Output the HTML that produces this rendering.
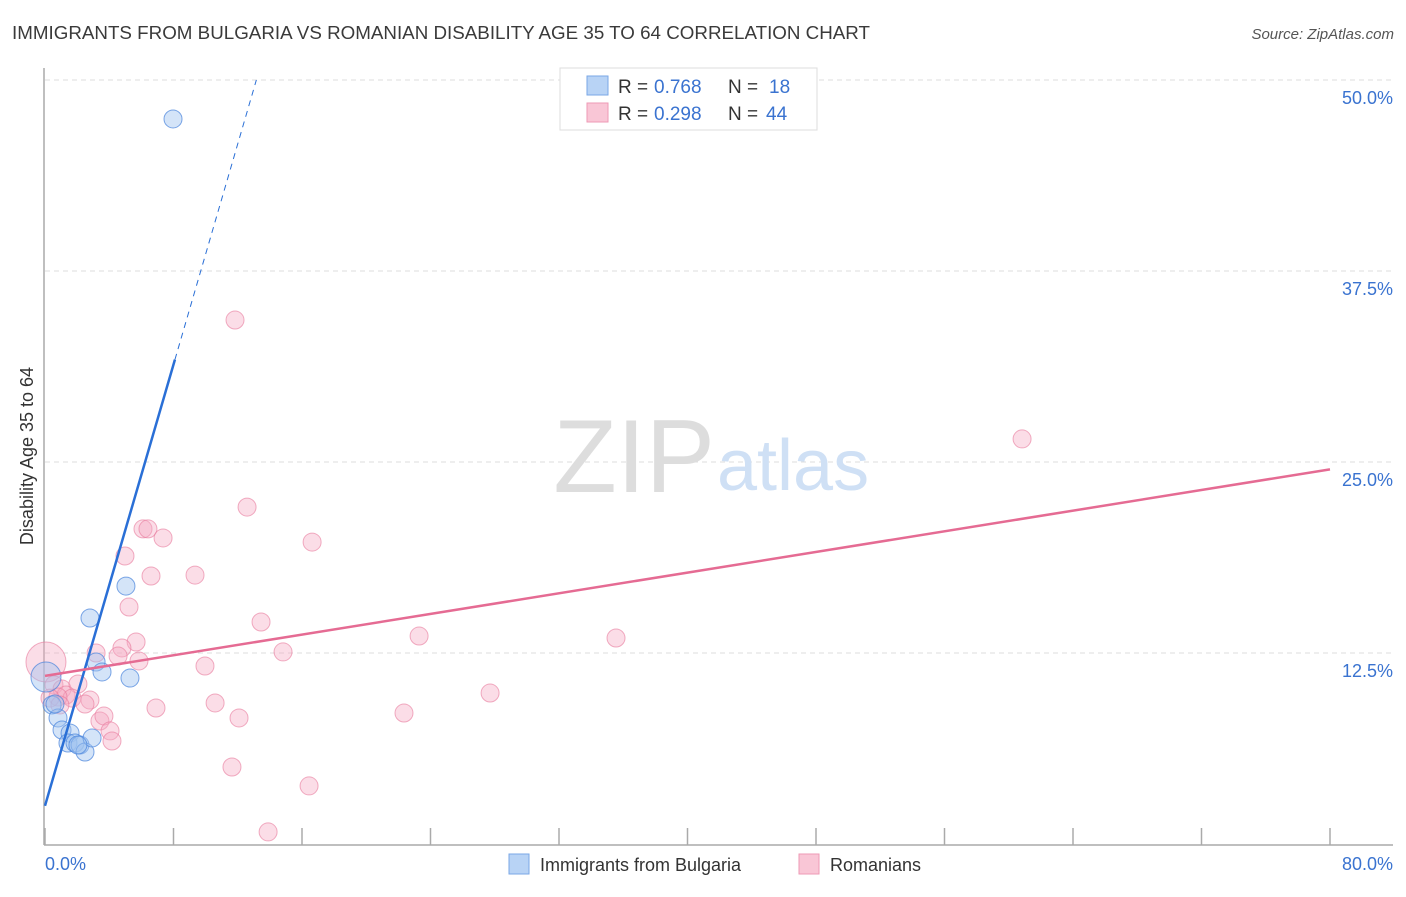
<!DOCTYPE html>
<html><head><meta charset="utf-8"><style>
body{margin:0;background:#fff;font-family:"Liberation Sans",sans-serif;}
svg text{font-family:"Liberation Sans",sans-serif;}
</style></head><body>
<svg id="c" width="1406" height="892">
<text x="12" y="39" font-size="18" fill="#3a3a3a" textLength="858" lengthAdjust="spacingAndGlyphs">IMMIGRANTS FROM BULGARIA VS ROMANIAN DISABILITY AGE 35 TO 64 CORRELATION CHART</text>
<text x="1394" y="39" font-size="15" fill="#555" text-anchor="end" font-style="italic">Source: ZipAtlas.com</text>
<text x="33" y="456" font-size="18" fill="#333" text-anchor="middle" transform="rotate(-90 33 456)">Disability Age 35 to 64</text>
<g id="grid"></g>
<text x="715" y="492" font-size="104" fill="#ddd" text-anchor="end" font-family="Liberation Serif">ZIP</text>
<text x="717" y="490" font-size="72" fill="#cfe0f5">atlas</text>
<g id="pts"></g>
<g id="lines"></g>
<g>
<rect x="560" y="68" width="257" height="62" fill="#fff" stroke="#ddd"/>
<rect x="587" y="76" width="21" height="19" fill="#b8d3f5" stroke="#7aa7e6"/>
<rect x="587" y="103" width="21" height="19" fill="#f9c6d6" stroke="#ee9ab5"/>
<text x="618" y="93" font-size="19" fill="#333">R =</text><text x="654" y="93" font-size="19" fill="#3a73d0">0.768</text>
<text x="728" y="93" font-size="19" fill="#333">N =</text><text x="769" y="93" font-size="19" fill="#3a73d0">18</text>
<text x="618" y="120" font-size="19" fill="#333">R =</text><text x="654" y="120" font-size="19" fill="#3a73d0">0.298</text>
<text x="728" y="120" font-size="19" fill="#333">N =</text><text x="766" y="120" font-size="19" fill="#3a73d0">44</text>
</g>
<g>
<rect x="509" y="854" width="20" height="20" fill="#b8d3f5" stroke="#7aa7e6"/>
<text x="540" y="871" font-size="18" fill="#333">Immigrants from Bulgaria</text>
<rect x="799" y="854" width="20" height="20" fill="#f9c6d6" stroke="#ee9ab5"/>
<text x="830" y="871" font-size="18" fill="#333">Romanians</text>
</g>
</svg>
<script>
const yTicks=[12.5,25,37.5,50];
const yTickLabels=["12.5%","25.0%","37.5%","50.0%"];
const xTickLabels=["0.0%","80.0%"];
const blueX=[7.97,5.04,2.80,3.18,3.55,5.29,0.06,0.44,0.81,1.06,1.56,1.43,1.87,2.18,2.49,2.93,0.62,2.05];
const blueY=[47.45,16.88,14.79,11.91,11.26,10.86,10.93,9.10,8.25,7.46,7.26,6.61,6.61,6.48,6.02,6.94,9.16,6.48];
const pinkX=[0.06,11.83,60.83,12.58,6.10,6.41,7.35,16.63,4.98,6.60,9.34,5.23,13.45,23.29,35.55,5.67,4.79,3.18,4.55,5.85,14.82,9.96,27.71,0.56,1.06,2.05,1.31,1.68,2.80,2.49,0.81,6.91,10.59,12.08,22.35,3.42,3.67,4.05,4.17,11.64,16.44,13.89,0.31,0.93];
const pinkY=[11.91,34.29,26.51,22.05,20.62,20.62,20.03,19.76,18.85,17.54,17.60,15.51,14.53,13.61,13.48,13.22,12.83,12.50,12.30,11.98,12.57,11.65,9.88,10.41,10.14,10.47,9.75,9.55,9.42,9.16,9.62,8.90,9.23,8.25,8.57,8.05,8.38,7.40,6.74,5.04,3.80,0.79,9.55,9.10];
const blueLine=[2.5,3.61];   // intercept, slope
const pinkLine=[11.0,0.169];
const NS="http://www.w3.org/2000/svg";
const X=v=>45+v*1285/80, Y=v=>844-v*764/50;
function mk(t,a,p){const e=document.createElementNS(NS,t);for(const k in a)e.setAttribute(k,a[k]);p.appendChild(e);return e;}
const grid=document.getElementById('grid');
yTicks.forEach((t,i)=>{
 const l=mk('line',{x1:45,x2:1393,y1:Y(t),y2:Y(t),stroke:'#ddd','stroke-dasharray':'5,4'},grid);
 
 
 const tx=mk('text',{x:1393,y:Y(t)+24,'font-size':18,fill:'#3a73d0','text-anchor':'end'},grid);tx.textContent=yTickLabels[i];
 
 
});
mk('line',{x1:44,x2:44,y1:68,y2:845,stroke:'#aaa','stroke-width':1.5},grid);
mk('line',{x1:44,x2:1393,y1:845,y2:845,stroke:'#aaa','stroke-width':1.5},grid);
for(let i=0;i<=10;i++){const t=mk('line',{x1:X(i*8),x2:X(i*8),y1:828,y2:845,stroke:'#aaa','stroke-width':1.5},grid);
 
 }
xTickLabels.forEach((s,i)=>{const t=mk('text',{x:i?1393:45,y:870,'font-size':18,fill:'#3a73d0','text-anchor':i?'end':'start'},grid);t.textContent=s;
 
 });
const pts=document.getElementById('pts');
pinkX.forEach((x,i)=>{const c=mk('circle',{cx:X(x),cy:Y(pinkY[i]),r:i==0?20:9,fill:'rgba(246,170,195,0.4)',stroke:'rgba(232,120,155,0.6)'},pts);
 
 });
blueX.forEach((x,i)=>{const c=mk('circle',{cx:X(x),cy:Y(blueY[i]),r:i==6?15:9,fill:'rgba(160,196,240,0.45)',stroke:'rgba(70,130,220,0.7)'},pts);
 
 });
const ln=document.getElementById('lines');
const bx1=(31.7-blueLine[0])/blueLine[1], bx2=(50-blueLine[0])/blueLine[1];
const b1=mk('line',{x1:X(0),y1:Y(blueLine[0]),x2:X(bx1),y2:Y(blueLine[0]+blueLine[1]*bx1),stroke:'#2a6fd6','stroke-width':2.5},ln);


const b2=mk('line',{x1:X(bx1),y1:Y(blueLine[0]+blueLine[1]*bx1),x2:X(bx2),y2:Y(50),stroke:'#2a6fd6','stroke-width':1,'stroke-dasharray':'6,5'},ln);


const p1=mk('line',{x1:X(0),y1:Y(pinkLine[0]),x2:X(80),y2:Y(pinkLine[0]+pinkLine[1]*80),stroke:'#e56b93','stroke-width':2.5},ln);


</script>
</body></html>
